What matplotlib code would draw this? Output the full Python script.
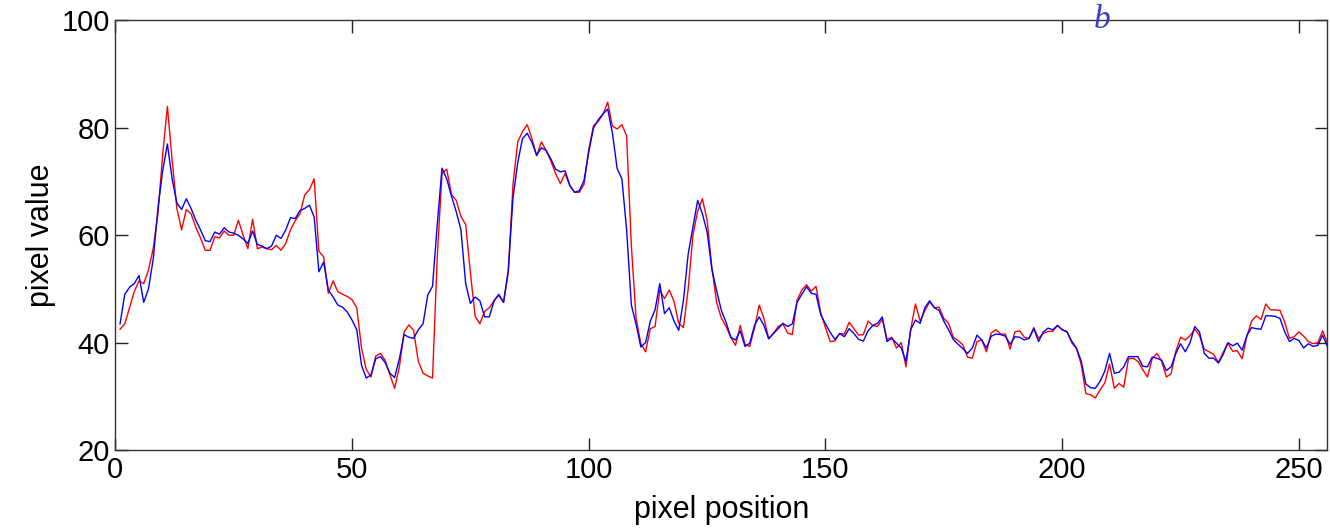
import numpy as np
import matplotlib
matplotlib.use('Agg')
import matplotlib.pyplot as plt

# pixel profile values, positions 1..256
red = [42.5, 43.5, 46.5, 49.5, 51.5, 51, 53.5, 57.5, 64, 75,
       84, 74, 65, 61, 64.8, 64, 61.5, 59.5, 57.2, 57.2,
       59.7, 59.5, 60.8, 60, 60, 62.8, 60, 57.5, 63, 57.5,
       57.8, 57.5, 57.3, 58.1, 57.2, 58.5, 61, 62.7, 64, 67.5,
       68.5, 70.5, 57, 56, 49.2, 51.5, 49.5, 49, 48.6, 48,
       46.5, 39, 35, 33.6, 37.5, 38, 36.7, 34, 31.5, 35.5,
       42, 43.3, 42.3, 36.5, 34.3, 33.8, 33.4, 56, 71.5, 72.3,
       67.6, 66.5, 63.5, 62, 53, 44.9, 43.5, 45.8, 46.5, 47.8,
       48.8, 47.5, 53, 69.5, 77.4, 79.3, 80.6, 78, 74.8, 77.4,
       75.8, 73.8, 71.5, 69.6, 71.5, 69.2, 68, 68, 69.5, 76,
       80.4, 81.2, 82.5, 84.8, 80.3, 79.8, 80.6, 78.5, 58, 44.5,
       39.8, 38.3, 42.6, 43, 49.8, 48.2, 49.8, 47.7, 43.6, 42.8,
       50, 60, 64.5, 66.8, 62.8, 54, 47.5, 44.6, 43, 41,
       39.5, 43.2, 39.7, 39.3, 42.7, 47, 44.5, 40.8, 41.7, 43,
       43.5, 41.8, 41.5, 47.9, 49.8, 50.8, 49.6, 50.5, 45.5, 42.8,
       40.2, 40.3, 41.7, 41.6, 43.8, 42.6, 41.4, 41.5, 44, 43.2,
       43, 44.4, 40.6, 41, 39, 40, 35.5, 42.5, 47.2, 44,
       46, 47.6, 46.5, 46.6, 44.5, 43.6, 41, 40.4, 39.6, 37.3,
       37.1, 40.2, 40.5, 38.3, 41.8, 42.4, 41.6, 41.6, 38.8, 42,
       42.2, 41, 40.8, 42.8, 40.8, 41.7, 42.1, 42.1, 43.2, 42.4,
       42.1, 40, 38.9, 36, 30.5, 30.3, 29.7, 31.2, 32.5, 36,
       31.5, 32.4, 31.7, 37, 37.1, 36.5, 35, 33.6, 37, 38,
       36.6, 33.6, 34.2, 38.4, 41, 40.5, 41.3, 42.5, 41.3, 38.8,
       38.3, 37.8, 36.3, 38.2, 39.9, 38.4, 38.5, 37, 41.2, 44,
       45, 44.3, 47.2, 46.1, 46.1, 46, 43.8, 40.8, 41.1, 42,
       41.2, 40.2, 39.8, 40, 42.2, 40]

blue = [43.5, 49, 50.3, 51, 52.5, 47.5, 50, 55.5, 65, 72,
        77, 70.5, 66, 64.8, 66.8, 65, 62.8, 61, 59, 58.8,
        60.6, 60.2, 61.4, 60.6, 60.4, 60, 59.3, 58.5, 60.8, 58.3,
        58, 57.5, 58, 60, 59.4, 61, 63.3, 63.1, 64.6, 65,
        65.6, 63.4, 53.2, 55, 49.8, 48.5, 47, 46.6, 45.7, 44.2,
        42.4, 35.8, 33.4, 34, 37, 37.4, 36.3, 34.3, 33.5, 37,
        41.5, 41, 40.8, 42.4, 43.5, 48.9, 50.5, 62, 72.5, 70.5,
        67.3, 64.4, 61, 51, 47.3, 48.5, 47.8, 44.8, 44.8, 47.8,
        49, 47.5, 53.5, 67, 73.5, 78, 79, 77.3, 74.9, 76.3,
        75.8, 74.2, 72.3, 71.8, 72, 69.3, 68, 68.3, 70.2, 75.5,
        80, 81.5, 82.6, 83.5, 79, 72.4, 70.5, 61, 47, 43.4,
        39.2, 40, 44, 46.1, 51, 45.4, 46.5, 44, 42.3, 47.9,
        56.5, 61.5, 66.5, 64, 60.6, 53.7, 49.7, 46, 43.8, 41,
        40.5, 42.2, 39.3, 39.9, 43.2, 44.8, 43.2, 40.7, 41.7, 42.6,
        43.6, 43, 43.5, 47.5, 49, 50.4, 49.2, 49, 45.2, 43.5,
        41.9, 40.6, 41.7, 41.1, 42.6, 41.7, 40.6, 40.3, 42.2, 43.2,
        43.6, 44.8, 40.2, 40.8, 39.9, 39, 36.5, 42.4, 44.2, 43.6,
        46.5, 47.8, 46.5, 46, 44, 42.4, 40.6, 39.7, 38.9, 38,
        39, 41.4, 40.5, 39, 41.2, 41.6, 41.5, 41.2, 39.7, 41.1,
        41, 40.5, 40.8, 42.6, 40.2, 42, 42.7, 42.4, 43.2, 42.4,
        42, 40.3, 39, 36.6, 32.3, 31.6, 31.5, 32.8, 34.7, 38,
        34.3, 34.5, 35.5, 37.4, 37.4, 37.4, 35.6, 35.5, 37.3, 37.1,
        36.7, 34.8, 35.5, 38, 39.8, 38.3, 40, 43, 42, 38,
        37.1, 37.1, 36.2, 37.8, 40, 39.4, 39.9, 38.6, 41.3, 42.8,
        42.6, 42.5, 45, 45, 44.9, 44.5, 42, 40.2, 40.8, 40.4,
        39, 39.8, 39.3, 39.5, 41.4, 39.3]

xticks = [0, 50, 100, 150, 200, 250]
yticks = [20, 40, 60, 80, 100]

plt.rcParams['font.family'] = ['Liberation Sans', 'DejaVu Sans']

x = np.arange(1, len(red) + 1)

fig = plt.figure(figsize=(13.3, 5.31), dpi=100)
ax = fig.add_axes([0.0867, 0.1525, 0.9113, 0.8089])

ax.plot(x, red, color='#ff0000', lw=1.0)
ax.plot(x, blue, color='#0000ff', lw=1.0)

ax.set_xlim(0, 256)
ax.set_ylim(20, 100)
ax.set_xticks(xticks)
ax.set_yticks(yticks)
ax.tick_params(direction='in', length=9, width=1, top=True, right=True,
               labelsize=21, pad=4, colors='#222222', labelcolor='black')
for s in ax.spines.values():
    s.set_linewidth(1.0)
    s.set_color('#333333')

ax.set_xlabel('pixel position', fontsize=22, labelpad=8)
ax.set_ylabel('pixel value', fontsize=22, labelpad=4)

# panel letter sits on top of the frame
fig.text(0.8286, 1 - 28 / 531, 'b', family='Liberation Serif', style='italic',
         fontsize=24, color='#3a3acc', ha='center', va='baseline')

fig.savefig('out.png', dpi=100)
